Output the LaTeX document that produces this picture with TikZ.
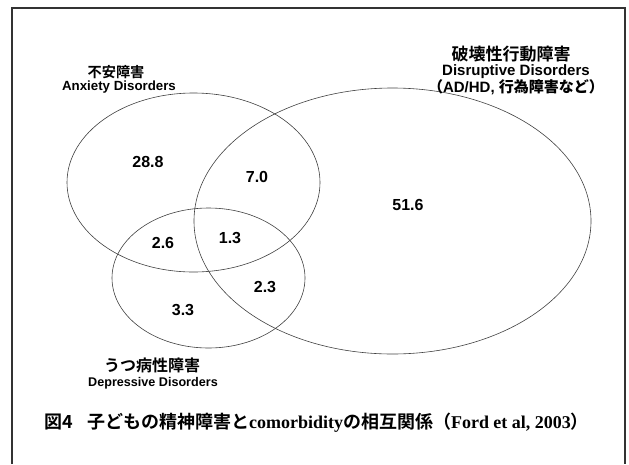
\documentclass[tikz,border=0pt]{standalone}
\usepackage{fontspec}
\setmainfont{Liberation Sans}[BoldFont={Liberation Sans Bold}]
\newfontfamily\jpb{Noto Sans CJK JP}[UprightFont=* Bold]
\newfontfamily\tnb{Liberation Serif}[UprightFont=* Bold]
\usetikzlibrary{shapes.geometric}
\tikzset{
  setbox/.style={ellipse, draw=black!75, line width=0.6pt, inner sep=0pt},
  num/.style={font=\fontsize{16}{18}\selectfont\bfseries, inner sep=0pt},
  jphead/.style={font=\fontsize{#1}{#1}\selectfont\jpb, inner sep=0pt},
  enhead/.style={font=\fontsize{#1}{#1}\selectfont\bfseries, inner sep=0pt},
}
\begin{document}
\begin{tikzpicture}[x=1pt,y=-1pt]
\useasboundingbox (0,0) rectangle (629,464);
\draw[black!80, line width=1.5pt] (12,464) -- (12,8) -- (625,8) -- (625,464);
% sets
\node[setbox, minimum width=253pt, minimum height=179pt] (anx) at (193.5,182.5) {};
\node[setbox, minimum width=397pt, minimum height=266pt] (dis) at (392.5,221) {};
\node[setbox, minimum width=193pt, minimum height=140pt] (dep) at (208.5,278) {};
% numbers
\node[num] (n1) at (148,162) {28.8};
\node[num] (n2) at (257,177) {7.0};
\node[num] (n3) at (163,243) {2.6};
\node[num] (n4) at (230,238) {1.3};
\node[num] (n5) at (265,287) {2.3};
\node[num] (n6) at (183,310) {3.3};
\node[num] (n7) at (408,205) {51.6};
% headings
\node[jphead=14.2] (anxjp) at (116,72) {不安障害};
\node[enhead=13.3] (anxen) at (119,87) {Anxiety Disorders};
\node[jphead=17] (disjp) at (511,54) {破壊性行動障害};
\node[enhead=15] (disen) at (516,72) {Disruptive Disorders};
\node[enhead=15] (disex) at (516,87) {{\jpb （}AD/HD, {\jpb 行為障害など）}};
\node[jphead=16] (depjp) at (152,365) {うつ病性障害};
\node[enhead=12.6] (depen) at (153,383) {Depressive Disorders};
% caption
\node[inner sep=0pt, font=\fontsize{18}{20}\selectfont] (cap) at (316.5,423)
  {{\jpb 図4\hspace{0.8em}子どもの精神障害と}{\tnb comorbidity}{\jpb の相互関係（}{\tnb Ford et al, 2003}{\jpb ）}};
\end{tikzpicture}
\end{document}
